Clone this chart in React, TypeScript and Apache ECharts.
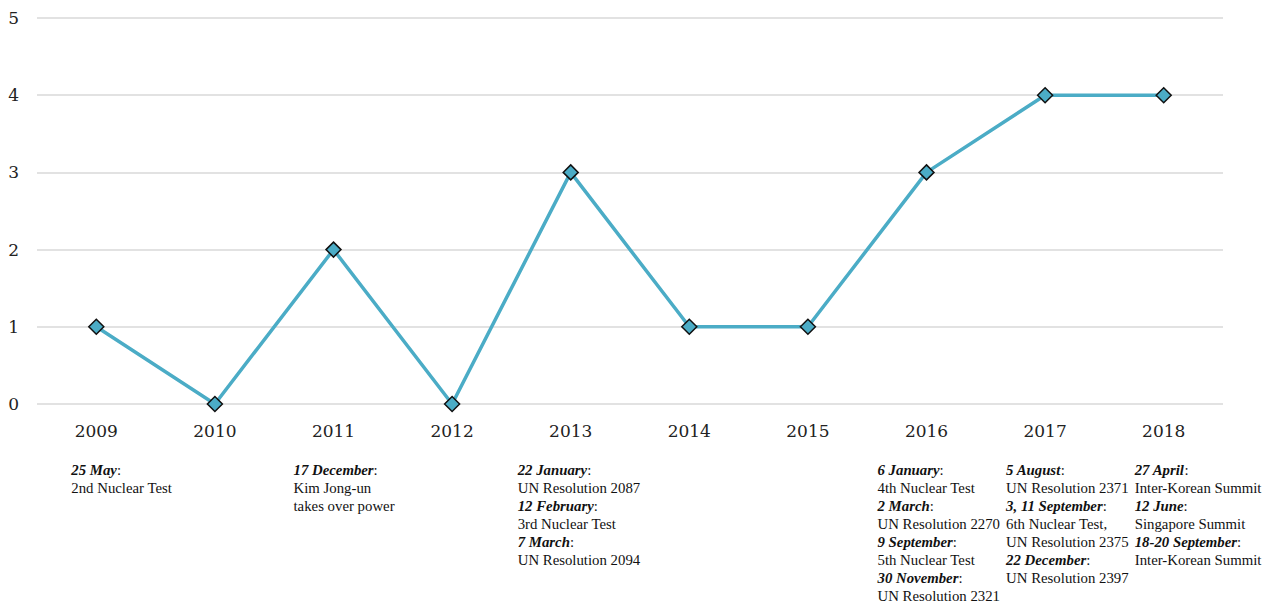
import React, { useEffect, useRef } from "react";
import * as echarts from "echarts";

const years = ["2009", "2010", "2011", "2012", "2013", "2014", "2015", "2016", "2017", "2018"];
const values = [1, 0, 2, 0, 3, 1, 1, 3, 4, 4];
const yTicks = [0, 1, 2, 3, 4, 5];

const ann2009 = [["25 May", "2nd Nuclear Test"]];
const ann2011 = [["17 December", "Kim Jong-un\ntakes over power"]];
const ann2013 = [
  ["22 January", "UN Resolution 2087"],
  ["12 February", "3rd Nuclear Test"],
  ["7 March", "UN Resolution 2094"],
];
const ann2016 = [
  ["6 January", "4th Nuclear Test"],
  ["2 March", "UN Resolution 2270"],
  ["9 September", "5th Nuclear Test"],
  ["30 November", "UN Resolution 2321"],
];
const ann2017 = [
  ["5 August", "UN Resolution 2371"],
  ["3, 11 September", "6th Nuclear Test,\nUN Resolution 2375"],
  ["22 December", "UN Resolution 2397"],
];
const ann2018 = [
  ["27 April", "Inter-Korean Summit"],
  ["12 June", "Singapore Summit"],
  ["18-20 September", "Inter-Korean Summit"],
];
const annotations: [string, string[][]][] = [
  ["2009", ann2009],
  ["2011", ann2011],
  ["2013", ann2013],
  ["2016", ann2016],
  ["2017", ann2017],
  ["2018", ann2018],
];
// horizontal offset of each annotation block from its category centre (layout)
const annOffsets: Record<string, number> = {
  "2009": -25,
  "2011": -40,
  "2013": -53,
  "2016": -49,
  "2017": -39,
  "2018": -29,
};

export default function App() {
  const ref = useRef<HTMLDivElement>(null);
  useEffect(() => {
    if (!ref.current) return;
    const chart = echarts.init(ref.current, null, { renderer: "svg" });
    const option: any = {
      animation: false,
      backgroundColor: "#ffffff",
      grid: { left: 37, right: 54, top: 18, bottom: 202, containLabel: false },
      xAxis: {
        type: "category",
        data: years,
        boundaryGap: true,
        axisLine: { show: false },
        axisTick: { show: false },
        axisLabel: {
          color: "#222",
          fontFamily: "DejaVu Serif",
          fontSize: 17,
          margin: 18,
        },
      },
      yAxis: {
        type: "value",
        min: yTicks[0],
        max: yTicks[yTicks.length - 1],
        interval: 1,
        axisLine: { show: false },
        axisTick: { show: false },
        splitLine: { lineStyle: { color: "#d9d9d9", width: 1.5 } },
        axisLabel: {
          color: "#222",
          fontFamily: "DejaVu Serif",
          fontSize: 17,
          margin: 18,
        },
      },
      series: [
        {
          type: "line",
          data: values,
          symbol: "diamond",
          symbolSize: 15,
          lineStyle: { color: "#4BACC6", width: 3.5 },
          itemStyle: { color: "#4BACC6", borderColor: "#111", borderWidth: 1.5 },
        },
      ],
    };
    chart.setOption(option);

    const graphics: any[] = annotations.map(([year, items]) => {
      const cx = chart.convertToPixel({ xAxisIndex: 0 }, year) as number;
      const text = items.map(([d, t]) => `{b|${d}}:\n${t}`).join("\n");
      return {
        type: "text",
        x: cx + (annOffsets[year] || 0),
        y: 461,
        style: {
          text,
          fontFamily: "Liberation Serif",
          fontSize: 14.8,
          lineHeight: 18,
          fill: "#111",
          rich: {
            b: {
              fontFamily: "Liberation Serif",
              fontSize: 14.8,
              lineHeight: 18,
              fontStyle: "italic",
              fontWeight: "bold",
              fill: "#111",
            },
          },
        },
      };
    });
    chart.setOption({ graphic: graphics });

    return () => chart.dispose();
  }, []);
  return (
    <div
      ref={ref}
      style={{ position: "absolute", left: 0, top: 0, width: 1277, height: 606 }}
    />
  );
}
